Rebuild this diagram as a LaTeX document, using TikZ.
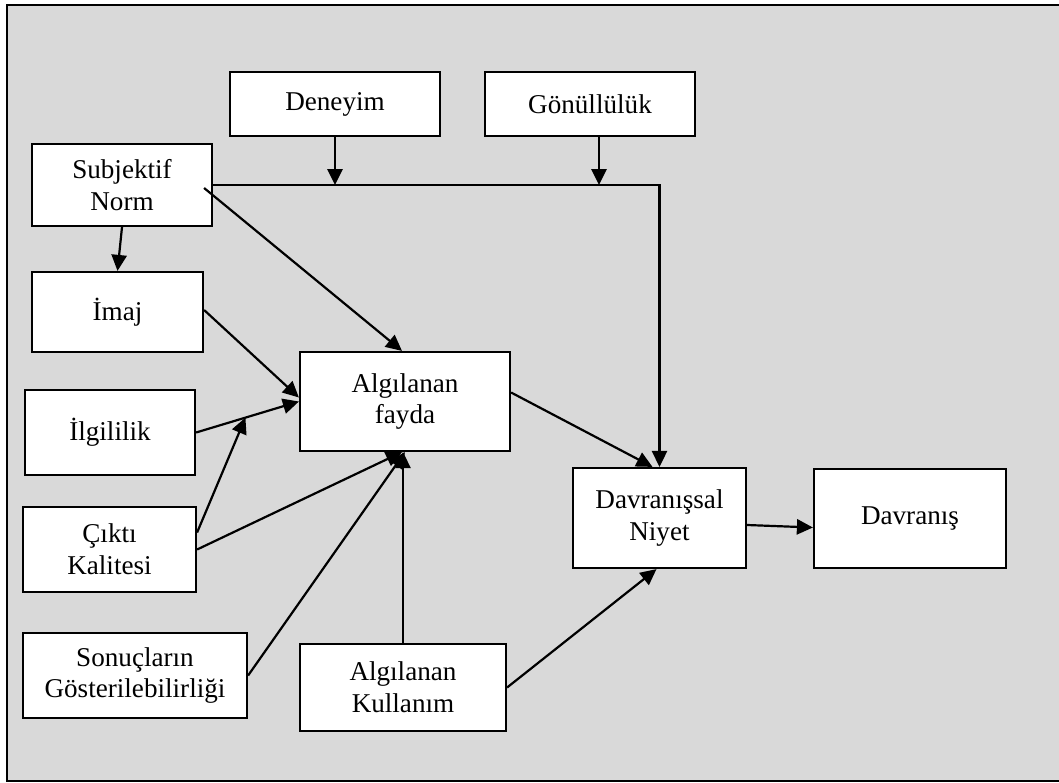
\documentclass[tikz,border=0pt]{standalone}
\usepackage{fontspec}
\setmainfont{Liberation Serif}
\usepackage{tikz}
\usetikzlibrary{calc,positioning,arrows.meta}
\definecolor{zemin}{HTML}{D9D9D9}

\begin{document}
\begin{tikzpicture}[x=0.25mm, y=-0.25mm,
		kutu/.style={draw, fill=white, line width=0.55mm, align=center, inner sep=0pt, font=\fontsize{19.3pt}{22.5pt}\selectfont},
		ok/.style={line width=0.55mm, -{Triangle[length=4mm, width=3.8mm]}}]
		\useasboundingbox (0,0) rectangle (1059,783);
		\clip (0,0) rectangle (1059,783);
		\draw[fill=zemin, line width=0.45mm] (7,5) rectangle (1075,781);
		
		% kutular
		\node[kutu, minimum width=52.5mm, minimum height=16mm] (den) at (335,104) {Deneyim};
		\node[kutu, minimum width=52.5mm, minimum height=16mm] (gon) at (590,104) {Gönüllülük};
		\node[kutu, minimum width=45mm, minimum height=20.5mm] (sub) at (122,185) {Subjektif\\Norm};
		\node[kutu, minimum width=42.75mm, minimum height=20mm] (ima) at (117.5,312) {İmaj};
		\node[kutu, minimum width=52.5mm, minimum height=24.75mm] (fay) at (405,401.5) {Algılanan\\fayda};
		\node[kutu, minimum width=42.5mm, minimum height=21.25mm] (ilg) at (110,432.5) {İlgililik};
		\node[kutu, minimum width=43.25mm, minimum height=21.25mm] (cik) at (109.5,549.5) {Çıktı\\Kalitesi};
		\node[kutu, minimum width=56mm, minimum height=21.25mm] (son) at (135,675.5) {Sonuçların\\Gösterilebilirliği};
		\node[kutu, minimum width=51.5mm, minimum height=21.75mm] (kul) at (403,687.5) {Algılanan\\Kullanım};
		\node[kutu, minimum width=43.25mm, minimum height=25mm] (niy) at (659.5,518) {Davranışsal\\Niyet};
		\node[kutu, minimum width=48mm, minimum height=24.75mm] (dav) at (910,518.5) {Davranış};
		
		% oklar
		\draw[ok] (sub.east) -- (niy.north |- sub.east) -- (niy.north);
		\draw[ok] (den.south) -- (den.south |- sub.east);
		\draw[ok] ([xshift=2.25mm]gon.south) -- ([xshift=2.25mm]gon.south |- sub.east);
		\draw[ok] (sub.south) -- (ima.north);
		\draw[ok] ($(sub.east)+(-9,3)$) -- ($(fay.north)+(-3,0)$);
		\draw[ok] ($(ima.east)+(0,-2)$) -- ($(fay.west)+(0,-4)$);
		\coordinate (orta) at ($(ilg.east)!0.48!(fay.west)$);
		\draw[ok] (ilg.east) -- (fay.west);
		\draw[ok] ($(cik.east)+(0,-17)$) -- (orta);
		\draw[ok] (cik.east) -- ($(fay.south)+(-3,0)$);
		\draw[ok] (son.east) -- (fay.south);
		\draw[ok] (kul.north) -- (kul.north |- fay.south);
		\draw[ok] ($(fay.east)+(0,-9)$) -- ($(niy.north)+(-7,0)$);
		\draw[ok] (kul.east) -- ($(niy.south)+(-3,0)$);
		\draw[ok] ($(niy.east)+(0,7)$) -- ($(dav.west)+(0,9)$);
	\end{tikzpicture}
\end{document}
